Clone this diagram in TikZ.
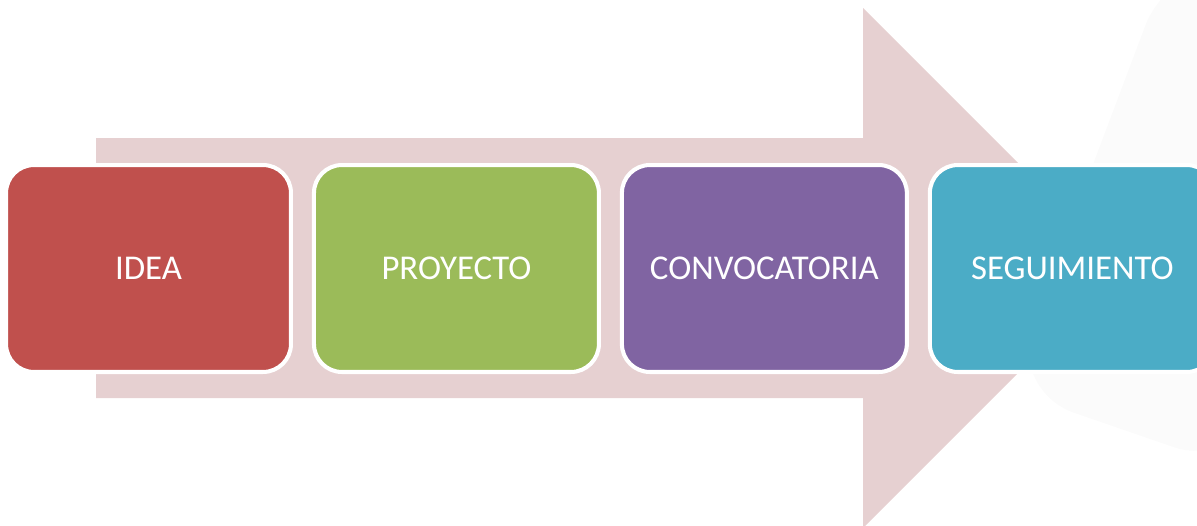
\documentclass[tikz,border=0pt]{standalone}
\usepackage{fontspec}
\setmainfont{Carlito}
\usepackage{tikz}
\usetikzlibrary{positioning}
\definecolor{arrowpink}{HTML}{E6D0D1}
\definecolor{ideared}{HTML}{C0504D}
\definecolor{projgreen}{HTML}{9BBB59}
\definecolor{convpurple}{HTML}{8064A2}
\definecolor{segteal}{HTML}{4BACC6}
\tikzset{
    stage/.style={rectangle, draw=white, line width=2.3pt, rounded corners=0.56cm, outer sep=0pt,
        minimum width=5.7cm, minimum height=4.14cm, text=white, font=\fontsize{19.8}{24}\selectfont},
    bigarrow/.style={fill=arrowpink}
}
\begin{document}
\begin{tikzpicture}[x=0.02cm, y=-0.02cm]
        \useasboundingbox (0,0) rectangle (1197,525);
        % faint backdrop on the right
        \fill[black!1.5, rounded corners=40] (1170,-40) -- (1008,390) -- (1240,470) -- (1240,-40) -- cycle;

        % Process arrow
        \fill[bigarrow] (96,138) -- (863,138) -- (863,8) -- (1123,268) -- (863,528) -- (863,398) -- (96,398) -- cycle;

        % Stages
        \node[stage, fill=ideared] (idea) at (148.5,268.5) {IDEA};
        \node[stage, fill=projgreen, right=0.46cm of idea] (proyecto) {PROYECTO};
        \node[stage, fill=convpurple, right=0.46cm of proyecto] (convocatoria) {CONVOCATORIA};
        \node[stage, fill=segteal, right=0.46cm of convocatoria] (seguimiento) {SEGUIMIENTO};
    \end{tikzpicture}
\end{document}
